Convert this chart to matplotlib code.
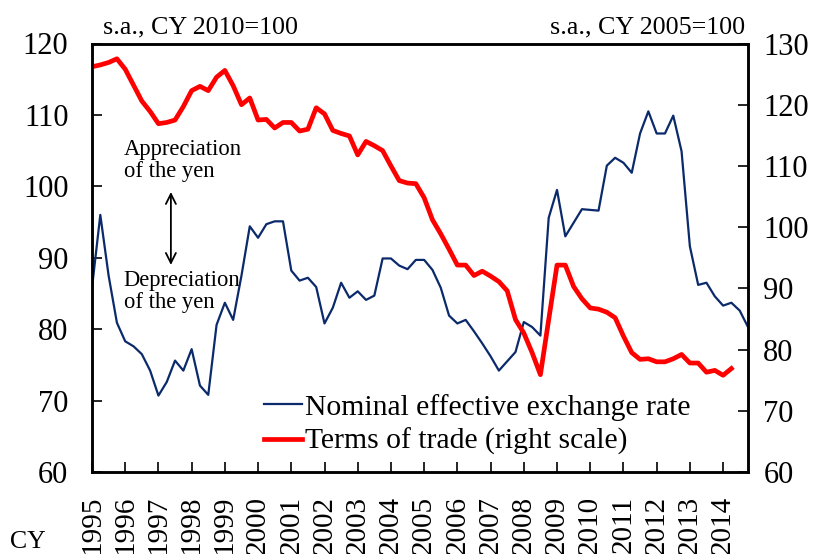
import numpy as np
import matplotlib
matplotlib.use("Agg")
import matplotlib.pyplot as plt

# quarterly data, 1995Q1 onwards
neer = [85.8, 96.0, 87.5, 80.9, 78.3, 77.6, 76.5, 74.2, 70.7, 72.6,
        75.6, 74.2, 77.2, 72.1, 70.8, 80.6, 83.7, 81.3, 87.5, 94.4,
        92.8, 94.7, 95.1, 95.1, 88.2, 86.8, 87.2, 85.9, 80.8, 83.0,
        86.5, 84.4, 85.3, 84.1, 84.7, 89.9, 89.9, 88.9, 88.4, 89.7,
        89.7, 88.3, 85.8, 81.9, 80.8, 81.3, 79.7, 78.0, 76.2, 74.2,
        75.5, 76.8, 81.0, 80.3, 79.1, 95.6, 99.5, 93.0, 94.9, 96.8,
        96.7, 96.6, 102.9, 104.0, 103.3, 101.9, 107.4, 110.5, 107.4, 107.4,
        109.9, 104.9, 91.6, 86.2, 86.5, 84.6, 83.3, 83.7, 82.6, 80.3]

tot = [126.2, 126.5, 126.9, 127.5, 125.8, 123.2, 120.6, 118.9, 116.9, 117.1,
       117.5, 119.7, 122.3, 123.0, 122.3, 124.5, 125.6, 123.1, 120.0, 121.1,
       117.5, 117.6, 116.2, 117.1, 117.1, 115.7, 116.0, 119.5, 118.5, 115.8,
       115.3, 114.9, 111.8, 114.0, 113.3, 112.5, 110.0, 107.6, 107.2, 107.1,
       104.8, 101.2, 98.9, 96.4, 93.8, 93.8, 92.1, 92.8, 92.0, 91.1,
       89.6, 84.9, 82.7, 79.5, 75.9, 84.9, 93.8, 93.8, 90.3, 88.3,
       86.8, 86.6, 86.1, 85.2, 82.2, 79.5, 78.4, 78.5, 78.0, 78.0,
       78.5, 79.2, 77.8, 77.8, 76.3, 76.6, 75.8, 76.9]

years = list(range(1995, 2015))

plt.rcParams['font.family'] = ['Liberation Serif', 'DejaVu Serif']
fs = 22

fig = plt.figure(figsize=(8.21, 5.54), dpi=100)
ax = fig.add_axes([92 / 821, 1 - 472 / 554, 656 / 821, 428.5 / 554])
ax2 = ax.twinx()

l1, = ax.plot(np.arange(len(neer)), neer, color='#0B2A6B', lw=1.6,
              label='Nominal effective exchange rate')
l2, = ax2.plot(np.arange(len(tot)), tot, color='#FF0000', lw=3.4,
               label='Terms of trade (right scale)')

ax.set_xlim(0, 79)
ax.set_ylim(60, 120)
ax2.set_ylim(60, 130)
ax.set_yticks(range(60, 121, 10))
ax2.set_yticks(range(60, 131, 10))
ax.set_xticks([4 * i for i in range(len(years))])
ax.set_xticklabels([str(y) for y in years], rotation=90)

# year labels sit low, as in the original (partly clipped at the bottom)
ax.tick_params(axis='x', direction='in', length=7, width=1.2, pad=17, labelsize=21)
ax.tick_params(axis='y', direction='in', length=7, width=1.2, pad=17, labelsize=fs)
ax2.tick_params(axis='y', direction='in', length=7, width=1.2, pad=11, labelsize=fs)
for a in (ax, ax2):
    for s in a.spines.values():
        s.set_linewidth(1.8)

fig.text(103 / 821, 1 - 33 / 554, 's.a., CY 2010=100', fontsize=18.7, ha='left', va='baseline')
fig.text(745 / 821, 1 - 33 / 554, 's.a., CY 2005=100', fontsize=18.7, ha='right', va='baseline')
fig.text(10 / 821, 0.5 / 554, 'CY', fontsize=18.5, ha='left', va='bottom')

ax.text(3.8, 103.6, 'Appreciation\nof the yen', fontsize=16.3, ha='left', va='center',
        linespacing=1.1)
ax.text(3.8, 85.3, 'Depreciation\nof the yen', fontsize=16.3, ha='left', va='center',
        linespacing=1.1)
ax.annotate('', xy=(9.5, 99.6), xytext=(9.5, 88.6),
            arrowprops=dict(arrowstyle='<->', color='black', lw=1.3, mutation_scale=18))

ax2.legend(handles=[l1, l2], loc='upper left', bbox_to_anchor=(0.262, 0.183),
           frameon=False, fontsize=21.3, handlelength=1.3, handletextpad=0.1,
           borderaxespad=0, borderpad=0, labelspacing=0.25)

fig.savefig('out.png', dpi=100)
